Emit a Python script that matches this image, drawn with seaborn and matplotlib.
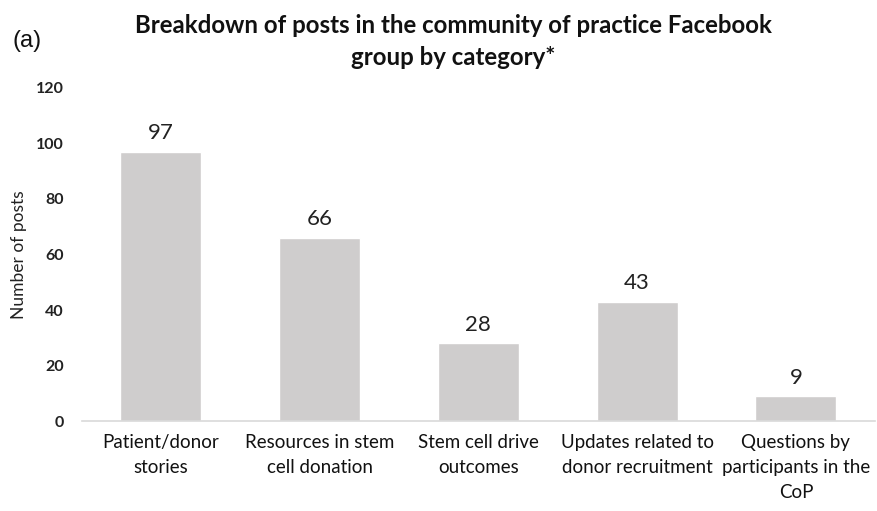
import matplotlib
matplotlib.use("Agg")
import matplotlib.pyplot as plt
import seaborn as sns
import pandas as pd

categories = ["Patient/donor\nstories", "Resources in stem\ncell donation",
              "Stem cell drive\noutcomes", "Updates related to\ndonor recruitment",
              "Questions by\nparticipants in the\nCoP"]
values = [97, 66, 28, 43, 9]
yticks = [0, 20, 40, 60, 80, 100, 120]

sns.set_theme(style="white")
plt.rcParams['font.family'] = ['Lato', 'DejaVu Sans']

df = pd.DataFrame({"cat": categories, "val": values})
fig = plt.figure(figsize=(8.77, 5.11), dpi=100)
ax = fig.add_axes([0.093, 0.176, 0.905, 0.652])
sns.barplot(data=df, x="cat", y="val", color="#cfcdcd", saturation=1, width=0.51, ax=ax)
ax.set_ylim(0, 120)
ax.set_xlim(-0.5, 4.5)
ax.set_yticks(yticks)
ax.set_yticklabels([str(t) for t in yticks], fontsize=11.5, fontweight="bold", color="#222222")
ax.tick_params(axis='y', length=0, pad=13)
ax.tick_params(axis='x', length=0, pad=9, labelsize=13.5, labelcolor="#111111")
for lbl in ax.get_xticklabels():
    lbl.set_linespacing(1.6)
for s in ["top", "right", "left"]:
    ax.spines[s].set_visible(False)
ax.spines["bottom"].set_color("#d9d9d9")
ax.spines["bottom"].set_linewidth(1.2)
ax.set_xlabel("")
ax.set_ylabel("Number of posts", fontsize=12.5, color="#222222", labelpad=6)
for i, v in enumerate(values):
    ax.text(i, v + 3, str(v), ha="center", va="bottom", fontsize=16, color="#222222")
fig.text(0.517, 0.972, "Breakdown of posts in the community of practice Facebook\ngroup by category*",
         ha="center", va="top", fontsize=17.3, fontweight="bold", linespacing=1.45, color="#111111")
fig.text(0.014, 0.92, "(a)", ha="left", va="center", fontsize=17,
         family=["Liberation Sans", "DejaVu Sans"], color="#111111")
fig.savefig("out.png", dpi=100)
